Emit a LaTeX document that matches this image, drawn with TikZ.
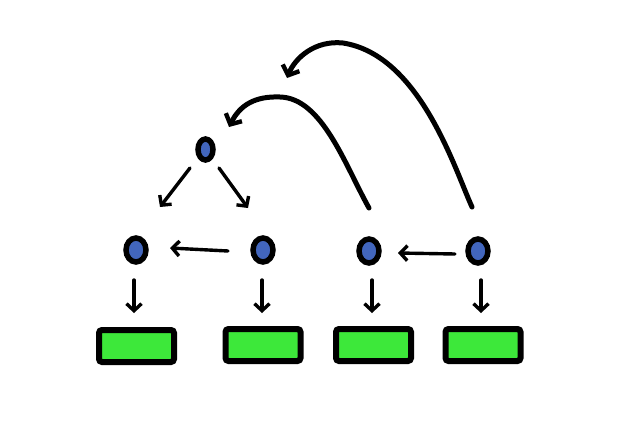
\documentclass[tikz,border=0pt]{standalone}
\usetikzlibrary{arrows.meta,shapes.geometric}
\definecolor{dotblue}{HTML}{4266BD}
\definecolor{leafgreen}{HTML}{3DE83A}
\begin{document}
\begin{tikzpicture}[x=1pt,y=-1pt,
  dot/.style={ellipse,draw=black,line width=5.5pt,fill=dotblue,minimum width=20pt,minimum height=24pt,inner sep=0pt},
  leaf/.style={draw=black,line width=6pt,fill=leafgreen,rounded corners=3pt,minimum width=75pt,minimum height=32pt,inner sep=0pt},
  edge/.style={line width=3.4pt,line cap=round,-{Straight Barb[length=7pt,width=15pt,line width=3.4pt]}},
  hop/.style={line width=5pt,line cap=round,-{Straight Barb[length=8pt,width=18pt,line width=4.4pt]}}]
\useasboundingbox (0,0) rectangle (622,434);
% tree nodes
\node[dot,minimum width=15pt,minimum height=21pt] (r) at (205.5,149.5) {};
\node[dot] (a) at (136,250) {};
\node[dot] (b) at (263,250) {};
\node[dot] (c) at (369,251) {};
\node[dot] (d) at (478,251) {};
% leaves
\node[leaf] (la) at (136.5,346) {};
\node[leaf] (lb) at (263,345) {};
\node[leaf] (lc) at (373.5,345) {};
\node[leaf] (ld) at (483,345) {};
% arrow end points
\coordinate (r1) at (190,168);
\coordinate (r1e) at (160,207);
\coordinate (r2) at (219,168);
\coordinate (r2e) at (248,208);
\coordinate (b1) at (228,251);
\coordinate (b1e) at (170,248);
\coordinate (d1) at (455,254);
\coordinate (d1e) at (398,253);
\coordinate (c0) at (369,208);
\coordinate (c0e) at (229,127);
\coordinate (d0) at (472,207);
\coordinate (d0e) at (287,78);
% down edges from the top node
\draw[edge] (r1) -- (r1e);
\draw[edge] (r2) -- (r2e);
% sideways edges
\draw[edge] (b1) -- (b1e);
\draw[edge] (d1) -- (d1e);
% edges down to the leaves
\foreach \n/\x in {a/134,b/262,c/372,d/481}
  \draw[edge] (\x,280) -- (\x,313);
% long arcs back to the top
\draw[hop] (c0) .. controls (345,165) and (322,98) .. (280,97)
  .. controls (255,96) and (240,105) .. (c0e);
\draw[hop] (d0) .. controls (455,170) and (420,55) .. (343,43)
  .. controls (315,40) and (295,58) .. (d0e);
\end{tikzpicture}
\end{document}
